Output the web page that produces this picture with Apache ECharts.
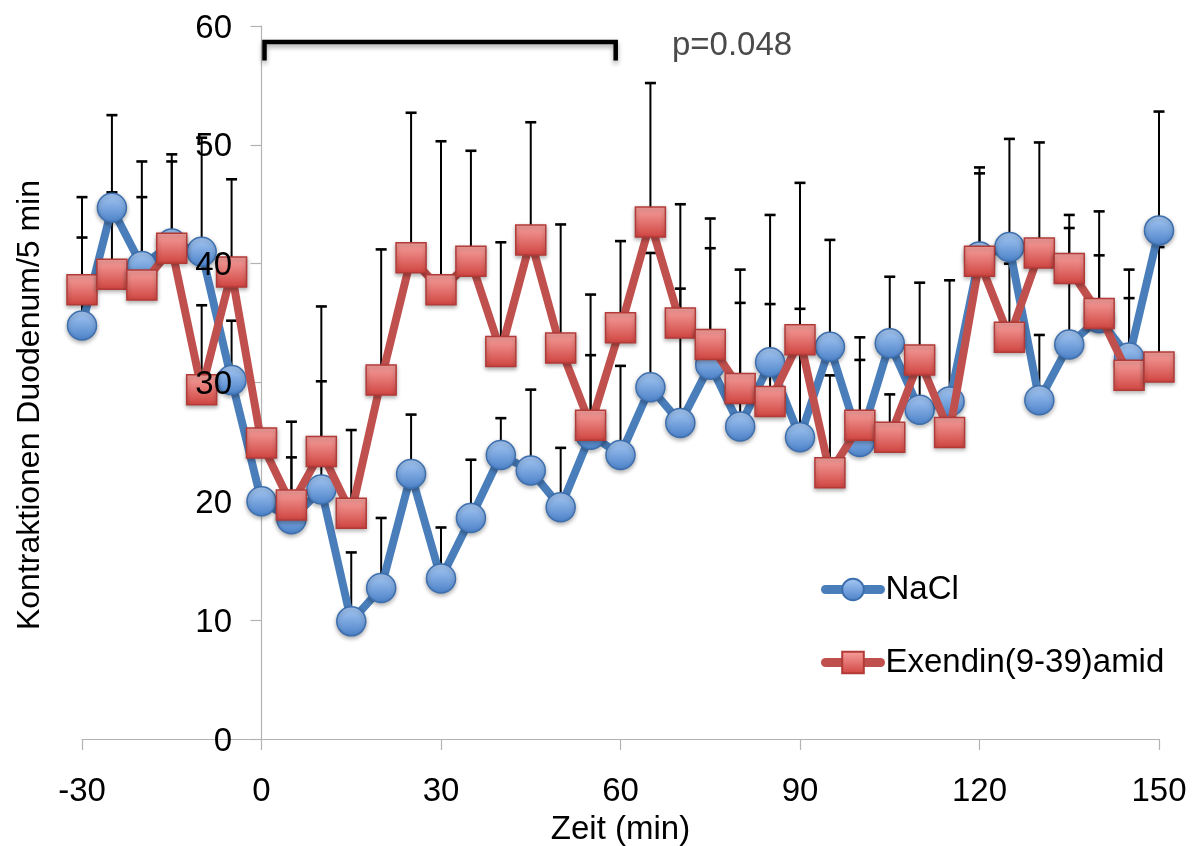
<!DOCTYPE html>
<html>
<head>
<meta charset="utf-8">
<script src="https://cdn.jsdelivr.net/npm/echarts@6/dist/echarts.min.js"></script>
<style>
  html, body { margin: 0; padding: 0; background: #fff; }
  #chart { width: 1196px; height: 846px; }
</style>
</head>
<body>
<div id="chart"></div>
<script>
// Time points (min) relative to infusion start
const times = [-30,-25,-20,-15,-10,-5,0,5,10,15,20,25,30,35,40,45,50,55,60,65,70,75,80,85,90,95,100,105,110,115,120,125,130,135,140,145,150];

// Mean contractions per 5 min
const nacl = [34.8,44.7,39.8,41.7,41.0,30.2,20.0,18.5,21.0,9.9,12.7,22.3,13.5,18.6,23.9,22.6,19.5,25.6,23.9,29.6,26.6,31.5,26.3,31.7,25.4,33.0,25.0,33.3,27.7,28.4,40.6,41.4,28.5,33.2,35.4,32.1,42.8];
const exendin = [37.8,39.1,38.2,41.3,29.4,39.3,24.9,19.7,24.2,19.0,30.2,40.5,37.8,40.2,32.6,42.0,32.9,26.4,34.6,43.5,35.0,33.2,29.5,28.4,33.6,22.4,26.4,25.4,31.9,25.8,40.2,33.8,40.9,39.6,35.8,30.6,31.3];

// Standard error (upper bars only)
const naclSem = [7.4,7.8,8.8,7.5,9.6,5.0,0.8,5.2,9.1,5.8,5.9,5.0,4.3,4.9,3.1,6.8,5.0,6.7,7.5,11.3,11.3,9.8,10.4,12.4,10.8,9.0,6.9,5.6,10.7,10.2,7.5,9.1,5.5,9.8,5.3,7.4,10.0];
const exendinSem = [7.8,6.9,7.4,7.3,7.1,7.8,0.7,7.0,12.2,7.0,11.0,12.2,12.5,9.3,9.2,9.9,10.4,11.0,7.3,11.7,10.0,10.6,10.0,8.2,13.2,8.2,7.4,3.6,0.7,0.8,7.4,6.2,9.3,4.5,8.6,6.5,10.1];

// Axis ticks
const xTicks = { min: -30, max: 150, interval: 30 };
const yTicks = { min: 0, max: 60, interval: 10 };

// Comparison bracket over the infusion period and its p-value
const bracketSpan = [0.5, 59.2];
const bracketLevel = 58.66;
const bracketFoot = 57.1;
const pText = 'p=0.048';
const pTextAt = [68.6, 58.3];

const seriesNames = ['NaCl', 'Exendin(9-39)amid'];
const FONT = '"Liberation Sans", Arial, sans-serif';
const FS = 33;

const pairs = (vals) => times.map((t, i) => [t, vals[i]]);
const errRows = (vals, sem) => times.map((t, i) => [t, vals[i], +(vals[i] + sem[i]).toFixed(2)]);

function renderErr(params, api) {
  const p0 = api.coord([api.value(0), api.value(1)]);
  const p1 = api.coord([api.value(0), api.value(2)]);
  const hw = 5.5;
  return {
    type: 'group',
    children: [
      { type: 'line', shape: { x1: p0[0], y1: p0[1], x2: p1[0], y2: p1[1] }, style: { stroke: '#000', lineWidth: 2 } },
      { type: 'line', shape: { x1: p1[0] - hw, y1: p1[1], x2: p1[0] + hw, y2: p1[1] }, style: { stroke: '#000', lineWidth: 2.6 } }
    ]
  };
}

function renderBracket(params, api) {
  const a = api.coord([api.value(0), api.value(3)]);
  const b = api.coord([api.value(0), api.value(2)]);
  const c = api.coord([api.value(1), api.value(2)]);
  const d = api.coord([api.value(1), api.value(3)]);
  const tp = api.coord(pTextAt);
  return {
    type: 'group',
    children: [
      {
        type: 'polyline',
        shape: { points: [a, b, c, d] },
        style: {
          stroke: '#000', lineWidth: 4.5, fill: null, lineJoin: 'miter',
          shadowColor: 'rgba(0,0,0,0.35)', shadowBlur: 5, shadowOffsetY: 3
        }
      },
      {
        type: 'text',
        x: tp[0], y: tp[1],
        style: { text: pText, fill: '#4a4a4a', font: FS + 'px ' + FONT, verticalAlign: 'middle', align: 'left' }
      }
    ]
  };
}

const blueFill = new echarts.graphic.LinearGradient(0, 0, 0, 1, [
  { offset: 0, color: '#a9cbf5' }, { offset: 1, color: '#4a80c8' }
]);
const redFill = new echarts.graphic.LinearGradient(0, 0, 0, 1, [
  { offset: 0, color: '#f7a3a0' }, { offset: 1, color: '#cf433f' }
]);

const chart = echarts.init(document.getElementById('chart'), null, { renderer: 'canvas' });

const axisGray = '#b3b3b3';

chart.setOption({
  animation: false,
  backgroundColor: '#fff',
  textStyle: { fontFamily: FONT },
  grid: { left: 82, right: 37, top: 26, bottom: 107, containLabel: false, outerBoundsMode: 'none' },
  legend: {
    orient: 'vertical',
    left: 816,
    top: 568,
    itemWidth: 55,
    itemHeight: 27,
    itemGap: 40,
    lineStyle: { width: 9 },
    textStyle: { fontSize: FS, color: '#000', fontFamily: FONT },
    data: seriesNames
  },
  xAxis: {
    type: 'value',
    min: xTicks.min, max: xTicks.max, interval: xTicks.interval,
    name: 'Zeit (min)',
    nameLocation: 'middle',
    nameGap: 74,
    nameTextStyle: { fontSize: FS, color: '#000', fontFamily: FONT },
    axisLine: { lineStyle: { color: axisGray, width: 1.2 } },
    axisTick: { show: true, length: 11, lineStyle: { color: axisGray, width: 1.2 } },
    axisLabel: { fontSize: FS, color: '#000', margin: 36, fontFamily: FONT },
    splitLine: { show: false }
  },
  yAxis: [
    {
      // axis line and ticks, drawn at x = 0 beneath the data
      type: 'value',
      min: yTicks.min, max: yTicks.max, interval: yTicks.interval,
      axisLine: { show: true, onZero: true, lineStyle: { color: axisGray, width: 1.2 } },
      axisTick: { show: true, length: 11, lineStyle: { color: axisGray, width: 1.2 } },
      axisLabel: { show: false },
      splitLine: { show: false }
    },
    {
      // tick labels beside the x = 0 axis line, drawn over the data
      type: 'value',
      position: 'left',
      z: 10,
      min: yTicks.min, max: yTicks.max, interval: yTicks.interval,
      axisLine: { show: false },
      axisTick: { show: false },
      axisLabel: {
        fontSize: FS, color: '#000', margin: -150, fontFamily: FONT,
        verticalAlign: 'top', lineHeight: 5
      },
      splitLine: { show: false }
    }
  ],
  graphic: [{
    type: 'text',
    x: 30, y: 405,
    rotation: Math.PI / 2,
    style: { text: 'Kontraktionen Duodenum/5 min', fill: '#000', font: (FS - 1) + 'px ' + FONT, align: 'center', verticalAlign: 'middle' }
  }],
  series: [
    {
      type: 'custom', name: 'NaCl SEM', renderItem: renderErr, data: errRows(nacl, naclSem),
      encode: { x: 0, y: [1, 2] }, z: 1, silent: true
    },
    {
      type: 'custom', name: 'Exendin SEM', renderItem: renderErr, data: errRows(exendin, exendinSem),
      encode: { x: 0, y: [1, 2] }, z: 1, silent: true
    },
    {
      type: 'line', name: seriesNames[0], data: pairs(nacl), z: 3,
      symbol: 'circle', symbolSize: 29,
      lineStyle: { color: '#4a7ebb', width: 8, cap: 'round', join: 'round' },
      itemStyle: {
        color: blueFill, borderColor: '#3d6fae', borderWidth: 1.5,
        shadowColor: 'rgba(0,0,0,0.3)', shadowBlur: 4, shadowOffsetY: 2
      }
    },
    {
      type: 'line', name: seriesNames[1], data: pairs(exendin), z: 4,
      symbol: 'rect', symbolSize: 30,
      lineStyle: { color: '#c0504d', width: 8, cap: 'round', join: 'round' },
      itemStyle: {
        color: redFill, borderColor: '#b23b38', borderWidth: 1.5,
        shadowColor: 'rgba(0,0,0,0.3)', shadowBlur: 4, shadowOffsetY: 2
      }
    },
    {
      type: 'custom', name: 'bracket', renderItem: renderBracket,
      data: [[bracketSpan[0], bracketSpan[1], bracketLevel, bracketFoot]],
      encode: { x: [0, 1], y: [2, 3] }, z: 5, silent: true
    }
  ]
});
</script>
</body>
</html>
